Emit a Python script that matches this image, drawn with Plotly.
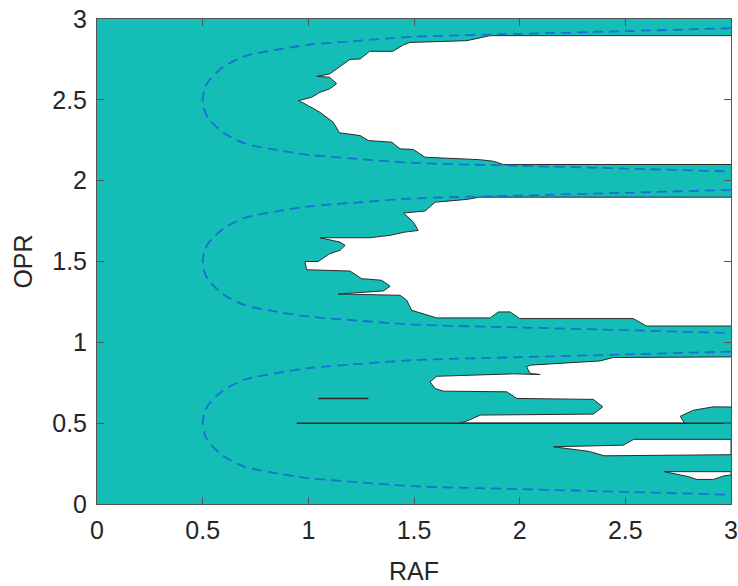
import plotly.graph_objects as go

# ---- data ----
x_ticks = [0, 0.5, 1, 1.5, 2, 2.5, 3]
y_ticks = [0, 0.5, 1, 1.5, 2, 2.5, 3]
x_tick_labels = ["0", "0.5", "1", "1.5", "2", "2.5", "3"]
y_tick_labels = ["0", "0.5", "1", "1.5", "2", "2.5", "3"]

# white (unfilled) regions of the filled contour
hole1_x = [3.0, 1.86, 1.75, 1.48, 1.45, 1.40, 1.29, 1.245, 1.197, 1.10, 1.04, 1.10, 1.134, 1.10,
           1.055, 1.016, 0.953, 0.984, 1.055, 1.118, 1.147, 1.245, 1.284, 1.395, 1.434, 1.497,
           1.552, 1.81, 1.876, 1.923, 3.0]
hole1_y = [2.897, 2.897, 2.866, 2.855, 2.84, 2.80, 2.80, 2.753, 2.75, 2.66, 2.645, 2.64, 2.60, 2.567,
           2.547, 2.516, 2.495, 2.475, 2.423, 2.361, 2.296, 2.279, 2.248, 2.238, 2.197, 2.193,
           2.145, 2.13, 2.12, 2.10, 2.10]

hole2_x = [3.0, 1.81, 1.75, 1.60, 1.552, 1.45, 1.497, 1.52, 1.457, 1.387, 1.29, 1.055, 1.15, 1.174,
           1.15, 1.10, 1.047, 0.984, 0.992, 1.197, 1.252, 1.347, 1.387, 1.355, 1.142, 1.434, 1.466,
           1.489, 1.607, 1.86, 1.899, 1.955, 2.0, 2.538, 2.60, 3.0]
hole2_y = [1.898, 1.898, 1.884, 1.867, 1.812, 1.80, 1.744, 1.692, 1.682, 1.662, 1.647, 1.647, 1.62, 1.60,
           1.569, 1.548, 1.50, 1.50, 1.449, 1.441, 1.394, 1.384, 1.347, 1.318, 1.299, 1.291, 1.26,
           1.198, 1.151, 1.151, 1.188, 1.188, 1.147, 1.147, 1.101, 1.101]

hole3_x = [3.0, 2.443, 2.38, 2.05, 2.033, 2.05, 2.097, 1.97, 1.607, 1.576, 1.60, 1.639, 1.939, 1.986,
           2.349, 2.393, 2.349, 1.813, 1.75, 1.718, 2.78, 2.76, 2.822, 2.917, 3.0]
hole3_y = [0.91, 0.906, 0.885, 0.859, 0.848, 0.807, 0.801, 0.805, 0.79, 0.755, 0.714, 0.698, 0.694, 0.653,
           0.647, 0.601, 0.556, 0.55, 0.513, 0.5, 0.5, 0.543, 0.58, 0.601, 0.60]

hole4_x = [2.16, 2.49, 2.54, 3.0, 3.0, 2.40, 2.33, 2.16]
hole4_y = [0.354, 0.364, 0.40, 0.40, 0.305, 0.298, 0.325, 0.354]

hole5_x = [2.685, 3.0, 3.0, 2.964, 2.917, 2.838, 2.80, 2.685]
hole5_y = [0.200, 0.200, 0.18, 0.173, 0.152, 0.152, 0.169, 0.200]

# degenerate contour segments (drawn as lines)
seg1_x = [0.945, 3.0]
seg1_y = [0.5, 0.5]
seg2_x = [1.047, 1.284]
seg2_y = [0.652, 0.652]

# dashed boundary curves (read points)
curve_x = [3.0, 2.5, 2.0, 1.5, 1.2, 1.0, 0.85, 0.7, 0.6, 0.53, 0.51, 0.5,
           0.51, 0.53, 0.6, 0.7, 0.85, 1.0, 1.2, 1.5, 2.0, 2.5, 3.0]
curve1_y = [0.943, 0.925, 0.908, 0.89, 0.862, 0.84, 0.81, 0.77, 0.705, 0.62, 0.57, 0.5,
            0.43, 0.38, 0.295, 0.23, 0.19, 0.16, 0.138, 0.11, 0.092, 0.075, 0.057]
curve2_y = [1.943, 1.925, 1.908, 1.89, 1.862, 1.84, 1.81, 1.77, 1.705, 1.62, 1.57, 1.5,
            1.43, 1.38, 1.295, 1.23, 1.19, 1.16, 1.138, 1.11, 1.092, 1.075, 1.057]
curve3_y = [2.943, 2.925, 2.908, 2.89, 2.862, 2.84, 2.81, 2.77, 2.705, 2.62, 2.57, 2.5,
            2.43, 2.38, 2.295, 2.23, 2.19, 2.16, 2.138, 2.11, 2.092, 2.075, 2.057]

TEAL = "#14BDB6"
EDGE = "#2b2b2b"
DASH = "#1A6FD2"
TXT = "#262626"
AX = "#555555"

fig = go.Figure()

for hx, hy in [(hole1_x, hole1_y), (hole2_x, hole2_y), (hole3_x, hole3_y),
               (hole4_x, hole4_y), (hole5_x, hole5_y)]:
    fig.add_trace(go.Scatter(x=hx, y=hy, mode="lines", fill="toself", fillcolor="white",
                             line=dict(color=EDGE, width=1), hoverinfo="skip", showlegend=False))

for sx, sy in [(seg1_x, seg1_y), (seg2_x, seg2_y)]:
    fig.add_trace(go.Scatter(x=sx, y=sy, mode="lines", line=dict(color=EDGE, width=1.5),
                             hoverinfo="skip", showlegend=False))

for cy in [curve1_y, curve2_y, curve3_y]:
    fig.add_trace(go.Scatter(x=curve_x, y=cy, mode="lines",
                             line=dict(color=DASH, width=1.8, dash="10px,6px", shape="spline", smoothing=0.8),
                             hoverinfo="skip", showlegend=False))

font = dict(family="Liberation Sans, Arial, sans-serif", size=25, color=TXT)

fig.update_layout(
    width=738, height=586,
    margin=dict(l=97, r=7, t=19, b=82),
    paper_bgcolor="white",
    plot_bgcolor=TEAL,
    font=font,
    showlegend=False,
)
fig.update_xaxes(range=[0, 3], tickvals=x_ticks, ticktext=x_tick_labels, automargin=False,
                 showgrid=False, zeroline=False, showline=True, linecolor=AX, linewidth=1,
                 mirror="ticks", ticks="inside", ticklen=7, tickcolor=AX, tickwidth=1,
                 ticklabelstandoff=4, ticklabeloverflow="allow",
                 tickfont=font, title=dict(text="RAF", font=font, standoff=19))
fig.update_yaxes(range=[0, 3], tickvals=y_ticks, ticktext=y_tick_labels, automargin=False,
                 showgrid=False, zeroline=False, showline=True, linecolor=AX, linewidth=1,
                 mirror="ticks", ticks="inside", ticklen=7, tickcolor=AX, tickwidth=1,
                 ticklabelstandoff=4, ticklabeloverflow="allow",
                 tickfont=font, title=dict(text="OPR", font=font, standoff=12))

# remove the page's default body margin so the figure fills the window exactly
fig.write_html("out.html", config={"displayModeBar": False},
               post_script="document.body.style.margin='0';document.body.style.overflow='hidden';")
